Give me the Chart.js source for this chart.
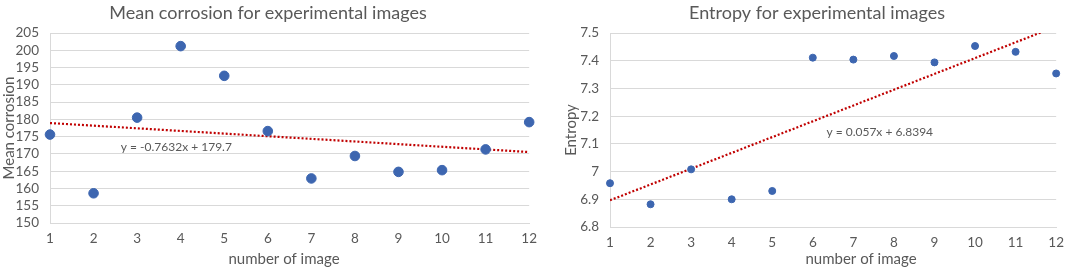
<!DOCTYPE html>
<html>
<head>
<meta charset="utf-8">
<script src="https://cdn.jsdelivr.net/npm/chart.js@4"></script>
<style>
body { margin: 0; background: #fff; }
#leftBox { position: absolute; left: 0; top: 0; width: 545px; height: 270px; }
#rightBox { position: absolute; left: 545px; top: 0; width: 527px; height: 270px; }
</style>
</head>
<body>
<div id="leftBox"><canvas id="corrosionChart" width="545" height="270"></canvas></div>
<div id="rightBox"><canvas id="entropyChart" width="527" height="270"></canvas></div>
<script>
// image numbers on the x axis
const imageNumbers = [1, 2, 3, 4, 5, 6, 7, 8, 9, 10, 11, 12];

// mean corrosion per image
const meanCorrosion = [175.6, 158.6, 180.5, 201.2, 192.6, 176.6, 162.9, 169.4, 164.8, 165.3, 171.3, 179.2];
// entropy per image
const entropyValues = [6.958, 6.882, 7.008, 6.900, 6.930, 7.411, 7.404, 7.417, 7.394, 7.453, 7.432, 7.354];

// linear trend lines [slope, intercept]
const corrosionFit = [-0.7632, 179.7];
const entropyFit = [0.057, 6.8394];

// y tick ranges [min, max, step]
const corrosionTicks = [150, 205, 5];
const entropyTicks = [6.8, 7.5, 0.1];

const textGrey = "#595959";
const gridGrey = "#d9d9d9";
const dotBlue = "#3d66b0";
const trendRed = "#c00000";
const fontName = "Lato, 'Liberation Sans', sans-serif";

function toPoints(values) {
	return imageNumbers.map((n, i) => ({ x: n, y: values[i] }));
}

function trendPoints(fit) {
	const first = imageNumbers[0];
	const last = imageNumbers[imageNumbers.length - 1];
	return [
		{ x: first, y: fit[0] * first + fit[1] },
		{ x: last, y: fit[0] * last + fit[1] },
	];
}

function equationText(fit) {
	return "y = " + fit[0] + "x + " + fit[1];
}

// draws title, x axis title and trend equation
const chartText = {
	id: "chartText",
	afterDraw(chart, args, opts) {
		const ctx = chart.ctx;
		ctx.save();
		ctx.fillStyle = textGrey;
		ctx.textAlign = "center";
		ctx.textBaseline = "middle";
		ctx.font = "18px " + fontName;
		ctx.fillText(opts.title, opts.titleX, 13);
		ctx.font = "15px " + fontName;
		ctx.fillText("number of image", opts.xTitleX, 259);
		ctx.font = "12px " + fontName;
		const sx = chart.scales.x.getPixelForValue(opts.eqAt[0]);
		const sy = chart.scales.y.getPixelForValue(opts.eqAt[1]);
		ctx.fillText(opts.equation, sx, sy);
		ctx.restore();
	},
};

function makeConfig(values, fit, ticks, yTitle, opts) {
	return {
		type: "scatter",
		data: {
			datasets: [
				{
					data: toPoints(values),
					backgroundColor: dotBlue,
					borderColor: dotBlue,
					pointRadius: opts.radius,
					pointHoverRadius: opts.radius,
					clip: false,
				},
				{
					type: "line",
					data: trendPoints(fit),
					borderColor: trendRed,
					borderWidth: 2.2,
					borderDash: [2, 2],
					pointRadius: 0,
					fill: false,
				},
			],
		},
		options: {
			responsive: false,
			animation: false,
			layout: { padding: { top: 33, right: opts.padRight, left: 0, bottom: 0 } },
			plugins: {
				legend: { display: false },
				tooltip: { enabled: false },
				chartText: {
					title: opts.title,
					titleX: opts.titleX,
					xTitleX: opts.xTitleX,
					equation: equationText(fit),
					eqAt: opts.eqAt,
				},
			},
			scales: {
				x: {
					type: "linear",
					min: imageNumbers[0],
					max: imageNumbers[imageNumbers.length - 1],
					grid: { display: false, drawTicks: false },
					border: { display: true, color: gridGrey },
					ticks: { stepSize: 1, autoSkip: false, color: textGrey, font: { family: fontName, size: 13.5 }, padding: 8 },
					afterFit(scale) { scale.height = opts.xHeight; },
				},
				y: {
					min: ticks[0],
					max: ticks[1],
					grid: { color: gridGrey, drawTicks: false },
					border: { display: true, color: gridGrey },
					ticks: {
						stepSize: ticks[2],
						autoSkip: false,
						color: textGrey,
						font: { family: fontName, size: 13.5 },
						padding: 11,
						callback: (v) => String(Number(v.toFixed(1))),
					},
					title: { display: true, text: yTitle, color: textGrey, font: { family: fontName, size: 15 }, padding: { top: opts.yTitlePad, bottom: 0 } },
					afterFit(scale) { scale.width = opts.yWidth; },
				},
			},
		},
		plugins: [chartText],
	};
}

const corrosionChart = new Chart(
	document.getElementById("corrosionChart"),
	makeConfig(meanCorrosion, corrosionFit, corrosionTicks, "Mean corrosion", {
		radius: 4.8,
		padRight: 15,
		xHeight: 47,
		yWidth: 50,
		yTitlePad: 0,
		title: "Mean corrosion for experimental images",
		titleX: 268,
		xTitleX: 284,
		eqAt: [3.9, 172.0],
	})
);

const entropyChart = new Chart(
	document.getElementById("entropyChart"),
	makeConfig(entropyValues, entropyFit, entropyTicks, "Entropy", {
		radius: 3.5,
		padRight: 9,
		xHeight: 43,
		yWidth: 65,
		yTitlePad: 17,
		title: "Entropy for experimental images",
		titleX: 272,
		xTitleX: 316,
		eqAt: [7.65, 7.143],
	})
);
</script>
</body>
</html>
